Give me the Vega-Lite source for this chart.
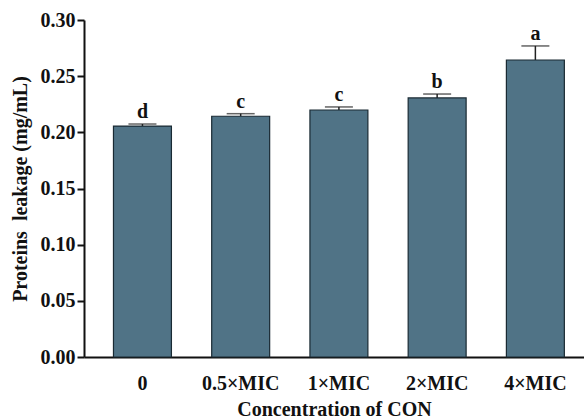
{
  "$schema": "https://vega.github.io/schema/vega-lite/v6.json",
  "width": 500,
  "height": 337,
  "autosize": "none",
  "padding": {"left": 84, "top": 20, "right": 0, "bottom": 62},
  "background": "white",
  "config": {
    "view": {"stroke": null},
    "font": "Liberation Serif",
    "text": {"font": "Liberation Serif"},
    "axis": {"grid": false, "domainColor": "#111", "domainWidth": 2, "tickColor": "#111", "tickWidth": 2, "labelFont": "Liberation Serif", "titleFont": "Liberation Serif", "labelFontWeight": "bold", "titleFontWeight": "bold", "labelColor": "#111", "titleColor": "#111"}
  },
  "data": {
    "values": [
      {"group": "0", "value": 0.2056, "upper": 0.2074, "letter": "d"},
      {"group": "0.5×MIC", "value": 0.2143, "upper": 0.2166, "letter": "c"},
      {"group": "1×MIC", "value": 0.2199, "upper": 0.2226, "letter": "c"},
      {"group": "2×MIC", "value": 0.2306, "upper": 0.2341, "letter": "b"},
      {"group": "4×MIC", "value": 0.2644, "upper": 0.2769, "letter": "a"}
    ]
  },
  "encoding": {
    "x": {
      "field": "group", "type": "nominal", "sort": null,
      "scale": {"paddingInner": 0.41, "paddingOuter": 0.25, "align": 0.6},
      "axis": {"title": "Concentration of CON", "labelAngle": 0, "ticks": false, "labelPadding": 16, "labelFontSize": 20, "titleFontSize": 20, "titlePadding": 6}
    }
  },
  "layer": [
    {
      "mark": {"type": "rule", "color": "#222", "strokeWidth": 1.5},
      "encoding": {"y": {"field": "value", "type": "quantitative"}, "y2": {"field": "upper"}}
    },
    {
      "mark": {"type": "tick", "color": "#222", "thickness": 1.5, "size": 28},
      "encoding": {"y": {"field": "upper", "type": "quantitative"}}
    },
    {
      "mark": {"type": "bar", "color": "#507386", "stroke": "#1a2a33", "strokeWidth": 1.2},
      "encoding": {
        "y": {
          "field": "value", "type": "quantitative",
          "scale": {"domain": [0, 0.3], "nice": false},
          "axis": {"title": "Proteins\u00a0 leakage (mg/mL)", "format": ".2f", "values": [0, 0.05, 0.1, 0.15, 0.2, 0.25, 0.3], "tickSize": 7, "labelFontSize": 20, "titleFontSize": 20, "labelPadding": 2, "titlePadding": 10}
        }
      }
    },
    {
      "mark": {"type": "text", "baseline": "bottom", "dy": -2, "fontSize": 20, "fontWeight": "bold", "font": "Liberation Serif", "color": "#111"},
      "encoding": {"y": {"field": "upper", "type": "quantitative"}, "text": {"field": "letter"}}
    }
  ]
}
